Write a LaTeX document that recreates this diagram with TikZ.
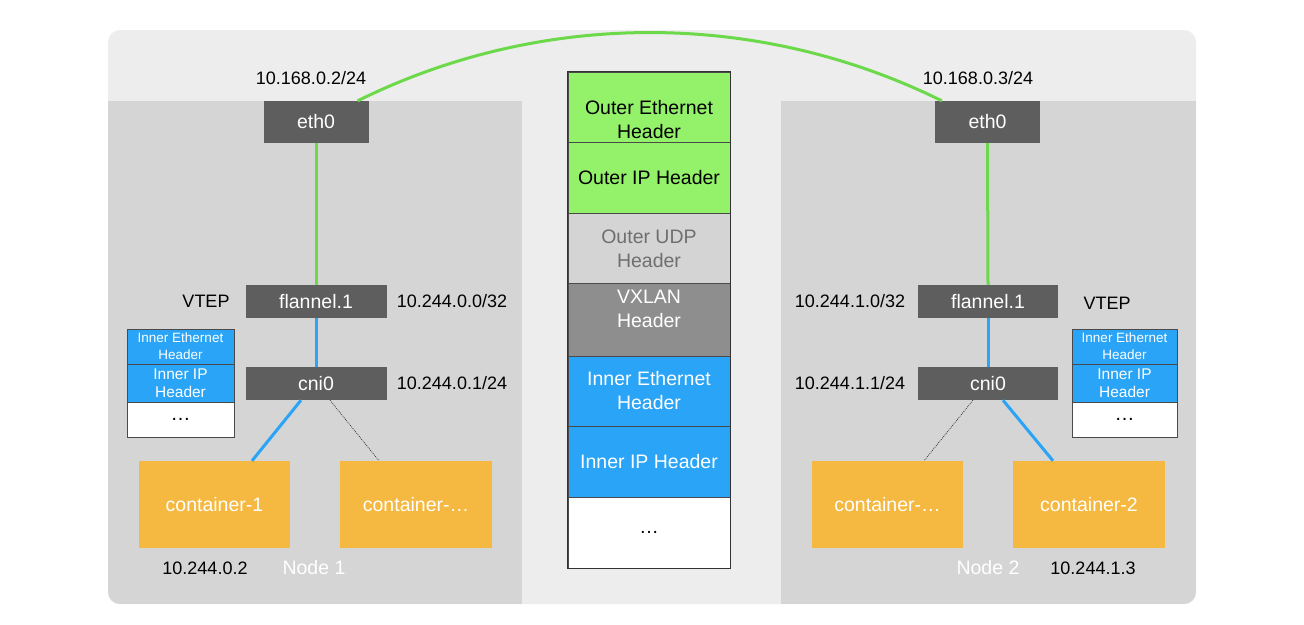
\documentclass[tikz,border=0pt]{standalone}
\usepackage{fontspec}
\setmainfont{Liberation Sans}
\usetikzlibrary{calc}
\definecolor{bgouter}{HTML}{EDEDED}
\definecolor{panel}{HTML}{D5D5D5}
\definecolor{darkbox}{HTML}{5E5E5E}
\definecolor{linkgreen}{HTML}{6CD94A}
\definecolor{cellgreen}{HTML}{93F26A}
\definecolor{cellblue}{HTML}{29A4F6}
\definecolor{udpgray}{HTML}{D4D4D4}
\definecolor{udptext}{HTML}{6F6F6F}
\definecolor{vxgray}{HTML}{8E8E8E}
\definecolor{contorange}{HTML}{F5B840}
\definecolor{cellline}{HTML}{4A4A4A}

\tikzset{
  devbox/.style={fill=darkbox, text=white, inner sep=0pt, minimum width=141pt,
    minimum height=33pt, font=\fontsize{19.5}{23}\selectfont},
  ctbox/.style={fill=contorange, text=white, inner sep=0pt, minimum width=151pt,
    minimum height=87pt, font=\fontsize{19.5}{23}\selectfont},
  lbl/.style={inner sep=0pt, font=\fontsize{18}{22}\selectfont},
  nodename/.style={inner sep=0pt, text=white, font=\fontsize{19.5}{23}\selectfont},
  hcell/.style={draw=cellline, line width=0.6pt, inner sep=0pt, minimum width=162pt},
  htext/.style={inner sep=0pt, align=center, font=\fontsize{19.5}{24}\selectfont},
  mcell/.style={draw=cellline, line width=0.6pt, inner sep=0pt, minimum width=107pt,
    align=center},
  greenlink/.style={draw=linkgreen, line width=3pt},
  bluelink/.style={draw=cellblue, line width=3pt},
  dotlink/.style={draw=black!85, line width=0.6pt, dash pattern=on 1pt off 1pt},
}

\begin{document}
\begin{tikzpicture}[x=1pt,y=-1pt]
\useasboundingbox (0,0) rectangle (1304,624);
\fill[white] (0,0) rectangle (1304,624);

% host network band and the two node panels
\fill[bgouter, rounded corners=12pt] (108,30) rectangle (1196,604);
\begin{scope}
  \clip[rounded corners=12pt] (108,30) rectangle (1196,604);
  \fill[panel] (108,101) rectangle (522,604);
  \fill[panel] (781,101) rectangle (1196,604);
\end{scope}

% ---------- Node 1 ----------
\node[devbox, minimum width=105pt, minimum height=42pt] (eth0L) at (316,122) {eth0};
\node[devbox] (flannelL) at (316,301.5) {flannel.1};
\node[devbox] (cniL) at (316,383.5) {cni0};
\node[ctbox] (c1) at (214.5,504.5) {container-1};
\node[ctbox, minimum width=152pt] (cxL) at (416,504.5) {container-\ldots};

\node[lbl] (ipethL) at (311,78) {10.168.0.2/24};
\node[lbl] (vtepL) at (206,301) {VTEP};
\node[lbl] (ipflL) at (452,301) {10.244.0.0/32};
\node[lbl] (ipcniL) at (452,383) {10.244.0.1/24};
\node[lbl] (ipc1) at (205,568) {10.244.0.2};
\node[nodename] (node1) at (314,568) {Node 1};

% inner frame carried inside node 1
\node[mcell, fill=cellblue, text=white, minimum height=35pt,
  font=\fontsize{13.5}{17}\selectfont] (meL) at (180.5,346.5) {Inner Ethernet\\Header};
\node[mcell, fill=cellblue, text=white, minimum height=38pt,
  font=\fontsize{15.5}{18}\selectfont] (miL) at (180.5,383) {Inner IP\\Header};
\node[mcell, fill=white, minimum height=35pt,
  font=\fontsize{20}{20}\selectfont] (mdL) at (180.5,419.5) {\ldots};

% ---------- Node 2 ----------
\node[devbox, minimum width=105pt, minimum height=42pt] (eth0R) at (987.5,122) {eth0};
\node[devbox, minimum width=140pt] (flannelR) at (988,301.5) {flannel.1};
\node[devbox, minimum width=140pt] (cniR) at (988,383.5) {cni0};
\node[ctbox] (cxR) at (887.5,504.5) {container-\ldots};
\node[ctbox, minimum width=152pt] (c2) at (1089,504.5) {container-2};

\node[lbl] (ipethR) at (978,78) {10.168.0.3/24};
\node[lbl] (vtepR) at (1107,303) {VTEP};
\node[lbl] (ipflR) at (850,301) {10.244.1.0/32};
\node[lbl] (ipcniR) at (850,383) {10.244.1.1/24};
\node[lbl] (ipc2) at (1093,568) {10.244.1.3};
\node[nodename] (node2) at (988,568) {Node 2};

\node[mcell, minimum width=105pt, fill=cellblue, text=white, minimum height=35pt,
  font=\fontsize{13.5}{17}\selectfont] (meR) at (1124.5,346.5) {Inner Ethernet\\Header};
\node[mcell, minimum width=105pt, fill=cellblue, text=white, minimum height=38pt,
  font=\fontsize{15.5}{18}\selectfont] (miR) at (1124.5,383) {Inner IP\\Header};
\node[mcell, minimum width=105pt, fill=white, minimum height=35pt,
  font=\fontsize{20}{20}\selectfont] (mdR) at (1124.5,419.5) {\ldots};

% ---------- VXLAN packet layout ----------
\node[hcell, fill=cellgreen, minimum height=70pt] (hOE) at (649,107) {};
\node[hcell, fill=cellgreen, minimum height=71pt] (hOI) at (649,177.5) {};
\node[hcell, fill=udpgray, minimum height=70pt] (hUDP) at (649,248) {};
\node[hcell, fill=vxgray, minimum height=73pt] (hVX) at (649,319.5) {};
\node[hcell, fill=cellblue, minimum height=70pt] (hIE) at (649,391) {};
\node[hcell, fill=cellblue, minimum height=71pt] (hII) at (649,461.5) {};
\node[hcell, fill=white, minimum height=71pt] (hDots) at (649,532.5) {};
\draw[draw=black!80, line width=0.8pt] (hOE.north west) rectangle (hDots.south east);

\node[htext] (tOE) at (649,120) {Outer Ethernet\\Header};
\node[htext] (tOI) at (649,178) {Outer IP Header};
\node[htext, text=udptext] (tUDP) at (649,249) {Outer UDP\\Header};
\node[htext, text=white] (tVX) at (649,309) {VXLAN\\Header};
\node[htext, text=white] (tIE) at (649,391) {Inner Ethernet\\Header};
\node[htext, text=white] (tII) at (649,462) {Inner IP Header};
\node[htext] (tDots) at (649,532) {\ldots};

% ---------- links ----------
\draw[greenlink] ($(eth0L.north east)+(-11,0)$)
  .. controls +(184,-91) and +(-184,-91) .. ($(eth0R.north west)+(7,0)$);
\draw[greenlink] (eth0L.south) -- (flannelL.north);
\draw[greenlink] (eth0R.south) -- (flannelR.north);
\draw[bluelink] (flannelL.south) -- (cniL.north);
\draw[bluelink] (flannelR.south) -- (cniR.north);
\draw[bluelink] ($(cniL.south)+(-15,0)$) -- ($(c1.north)+(37.5,0)$);
\draw[dotlink] ($(cniL.south)+(14,0)$) -- ($(cxL.north)+(-37,0)$);
\draw[dotlink] ($(cniR.south)+(-15,0)$) -- ($(cxR.north)+(36.5,0)$);
\draw[bluelink] ($(cniR.south)+(15,0)$) -- ($(c2.north)+(-36,0)$);
\end{tikzpicture}
\end{document}
